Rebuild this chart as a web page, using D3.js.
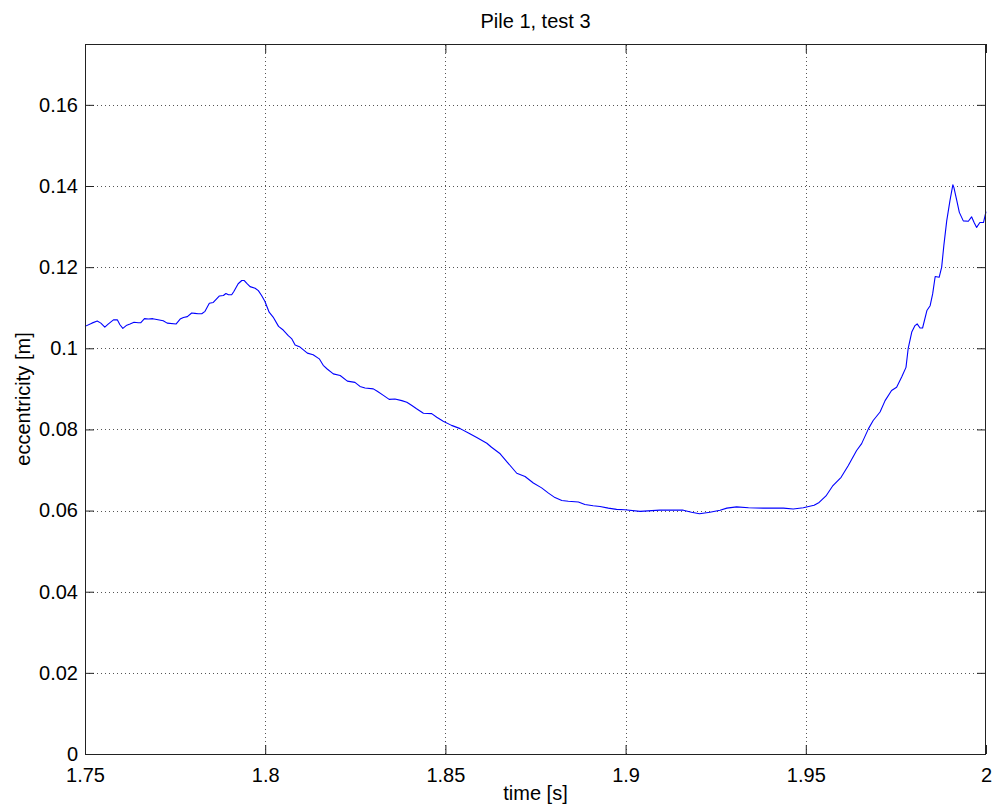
<!DOCTYPE html>
<html>
<head>
<meta charset="utf-8">
<script src="https://cdn.jsdelivr.net/npm/d3@7/dist/d3.min.js"></script>
<style>
  html, body { margin: 0; padding: 0; background: #fff; }
  svg text { font-family: "Liberation Sans", Arial, Helvetica, sans-serif; fill: #000; }
</style>
</head>
<body>
<svg id="chart" width="994" height="809"></svg>
<script>
// Eccentricity time history, pile 1, test 3
const titleText = "Pile 1, test 3";
const xLabel = "time [s]";
const yLabel = "eccentricity [m]";

const xTicks = [1.75, 1.8, 1.85, 1.9, 1.95, 2.0];
const xTickLabels = ["1.75", "1.8", "1.85", "1.9", "1.95", "2"];
const yTicks = [0, 0.02, 0.04, 0.06, 0.08, 0.1, 0.12, 0.14, 0.16];
const yTickLabels = ["0", "0.02", "0.04", "0.06", "0.08", "0.1", "0.12", "0.14", "0.16"];

const time = [
  1.7500, 1.7519, 1.7534, 1.7544, 1.7555, 1.7565, 1.7579, 1.7590, 1.7597, 1.7605,
  1.7616, 1.7625, 1.7636, 1.7648, 1.7655, 1.7665, 1.7676, 1.7688, 1.7699, 1.7717,
  1.7728, 1.7753, 1.7764, 1.7773, 1.7784, 1.7796, 1.7805, 1.7814, 1.7824, 1.7833,
  1.7845, 1.7856, 1.7873, 1.7884, 1.7891, 1.7898, 1.7907, 1.7913, 1.7925, 1.7935,
  1.7942, 1.7949, 1.7958, 1.7972, 1.7981, 1.7990, 1.7999, 1.8011, 1.8022, 1.8037,
  1.8050, 1.8064, 1.8074, 1.8083, 1.8095, 1.8106, 1.8117, 1.8133, 1.8150, 1.8161,
  1.8172, 1.8189, 1.8208, 1.8228, 1.8249, 1.8263, 1.8277, 1.8300, 1.8311, 1.8328,
  1.8344, 1.8360, 1.8379, 1.8393, 1.8407, 1.8420, 1.8439, 1.8462, 1.8476, 1.8494,
  1.8517, 1.8541, 1.8564, 1.8587, 1.8615, 1.8628, 1.8652, 1.8672, 1.8698, 1.8721,
  1.8744, 1.8767, 1.8786, 1.8804, 1.8823, 1.8841, 1.8869, 1.8887, 1.8910, 1.8929,
  1.8952, 1.8975, 1.8998, 1.9040, 1.9095, 1.9160, 1.9183, 1.9205, 1.9234, 1.9262,
  1.9281, 1.9308, 1.9341, 1.9382, 1.9438, 1.9465, 1.9493, 1.9523, 1.9537, 1.9556,
  1.9574, 1.9598, 1.9618, 1.9641, 1.9655, 1.9674, 1.9687, 1.9706, 1.9720, 1.9738,
  1.9752, 1.9766, 1.9778, 1.9784, 1.9794, 1.9803, 1.9809, 1.9817, 1.9824, 1.9836,
  1.9845, 1.9852, 1.9859, 1.9870, 1.9877, 1.9883, 1.9891, 1.9900, 1.9908, 1.9911,
  1.9919, 1.9926, 1.9937, 1.9951, 1.9960, 1.9967, 1.9974, 1.9983, 1.9993, 2.0000
];

const eccentricity = [
  0.1054, 0.1062, 0.1067, 0.1062, 0.1052, 0.1060, 0.1070, 0.1070, 0.1058, 0.1049,
  0.1057, 0.1060, 0.1064, 0.1063, 0.1063, 0.1073, 0.1072, 0.1073, 0.1071, 0.1068,
  0.1062, 0.1060, 0.1072, 0.1076, 0.1078, 0.1087, 0.1086, 0.1085, 0.1085, 0.1091,
  0.1111, 0.1113, 0.1129, 0.1130, 0.1135, 0.1132, 0.1132, 0.1140, 0.1159, 0.1167,
  0.1167, 0.1160, 0.1152, 0.1148, 0.1142, 0.1130, 0.1116, 0.1089, 0.1077, 0.1054,
  0.1045, 0.1031, 0.1023, 0.1008, 0.1004, 0.0996, 0.0988, 0.0984, 0.0974, 0.0958,
  0.0949, 0.0937, 0.0933, 0.0919, 0.0916, 0.0906, 0.0902, 0.0900, 0.0894, 0.0884,
  0.0874, 0.0875, 0.0871, 0.0867, 0.0859, 0.0851, 0.0840, 0.0839, 0.0830, 0.0820,
  0.0810, 0.0802, 0.0791, 0.0780, 0.0766, 0.0756, 0.0740, 0.0719, 0.0692, 0.0684,
  0.0668, 0.0656, 0.0643, 0.0632, 0.0625, 0.0623, 0.0621, 0.0615, 0.0612, 0.0610,
  0.0606, 0.0603, 0.0602, 0.0598, 0.0601, 0.0601, 0.0596, 0.0592, 0.0596, 0.0601,
  0.0606, 0.0609, 0.0607, 0.0606, 0.0606, 0.0604, 0.0607, 0.0613, 0.0620, 0.0636,
  0.0660, 0.0682, 0.0711, 0.0748, 0.0765, 0.0802, 0.0822, 0.0843, 0.0871, 0.0896,
  0.0904, 0.0929, 0.0953, 0.0999, 0.1040, 0.1056, 0.1060, 0.1050, 0.1050, 0.1093,
  0.1105, 0.1134, 0.1177, 0.1175, 0.1200, 0.1253, 0.1314, 0.1364, 0.1403, 0.1396,
  0.1364, 0.1335, 0.1314, 0.1313, 0.1324, 0.1310, 0.1298, 0.1310, 0.1310, 0.1337
];

const svg = d3.select("#chart");
const margin = { left: 85, right: 8, top: 44, bottom: 55 };
const W = 994, H = 809;
const x0 = margin.left, x1 = W - margin.right;
const y0 = H - margin.bottom, y1 = margin.top;

const x = d3.scaleLinear().domain([1.75, 2.0]).range([x0, x1]);
const y = d3.scaleLinear().domain([0, 0.175]).range([y0, y1]);

const fontSize = 20;
const tickLen = 9;

// grid (dotted)
const grid = svg.append("g").attr("class", "grid");
grid.selectAll("line.gx").data(xTicks.slice(1, -1)).enter().append("line")
  .attr("x1", d => Math.round(x(d)) + 0.5).attr("x2", d => Math.round(x(d)) + 0.5)
  .attr("y1", y0).attr("y2", y1)
  .attr("stroke", "#555").attr("stroke-width", 1).attr("stroke-dasharray", "1,3");
grid.selectAll("line.gy").data(yTicks.slice(1)).enter().append("line")
  .attr("y1", d => Math.round(y(d)) + 0.5).attr("y2", d => Math.round(y(d)) + 0.5)
  .attr("x1", x0).attr("x2", x1)
  .attr("stroke", "#555").attr("stroke-width", 1).attr("stroke-dasharray", "1,3");

// data line
const line = d3.line().x((d, i) => x(time[i])).y(d => y(d));
svg.append("path")
  .datum(eccentricity)
  .attr("d", line)
  .attr("fill", "none")
  .attr("stroke", "#0000ff")
  .attr("stroke-width", 1.1)
  .attr("stroke-linejoin", "round");

// axes: bottom / left with labels, top / right ticks only (ticks point inward)
const fmtX = (d) => xTickLabels[xTicks.indexOf(d)];
const fmtY = (d) => yTickLabels[yTicks.indexOf(d)];

const axB = svg.append("g").attr("transform", `translate(0,${y0})`)
  .call(d3.axisBottom(x).tickValues(xTicks).tickFormat(fmtX).tickSizeInner(-tickLen).tickSizeOuter(0).tickPadding(14));
const axT = svg.append("g").attr("transform", `translate(0,${y1})`)
  .call(d3.axisTop(x).tickValues(xTicks).tickFormat("").tickSizeInner(-tickLen).tickSizeOuter(0));
const axL = svg.append("g").attr("transform", `translate(${x0},0)`)
  .call(d3.axisLeft(y).tickValues(yTicks).tickFormat(fmtY).tickSizeInner(-tickLen).tickSizeOuter(0).tickPadding(7));
const axR = svg.append("g").attr("transform", `translate(${x1},0)`)
  .call(d3.axisRight(y).tickValues(yTicks).tickFormat("").tickSizeInner(-tickLen).tickSizeOuter(0));

[axB, axT, axL, axR].forEach(g => {
  g.select(".domain").remove();
  g.selectAll("line").attr("stroke", "#222");
  g.selectAll("text").attr("font-size", fontSize)
    .attr("font-family", "Liberation Sans, Arial, sans-serif").attr("fill", "#000");
});

// box
svg.append("rect")
  .attr("x", x0 + 0.5).attr("y", y1 + 0.5)
  .attr("width", x1 - x0 - 1).attr("height", y0 - y1)
  .attr("fill", "none").attr("stroke", "#222").attr("stroke-width", 1);

// title and axis labels
svg.append("text").attr("x", (x0 + x1) / 2).attr("y", 28)
  .attr("text-anchor", "middle").attr("font-size", fontSize).text(titleText);
svg.append("text").attr("x", (x0 + x1) / 2).attr("y", 800)
  .attr("text-anchor", "middle").attr("font-size", fontSize).text(xLabel);
svg.append("text")
  .attr("transform", `translate(30,${(y0 + y1) / 2}) rotate(-90)`)
  .attr("text-anchor", "middle").attr("font-size", fontSize).text(yLabel);
</script>
</body>
</html>
